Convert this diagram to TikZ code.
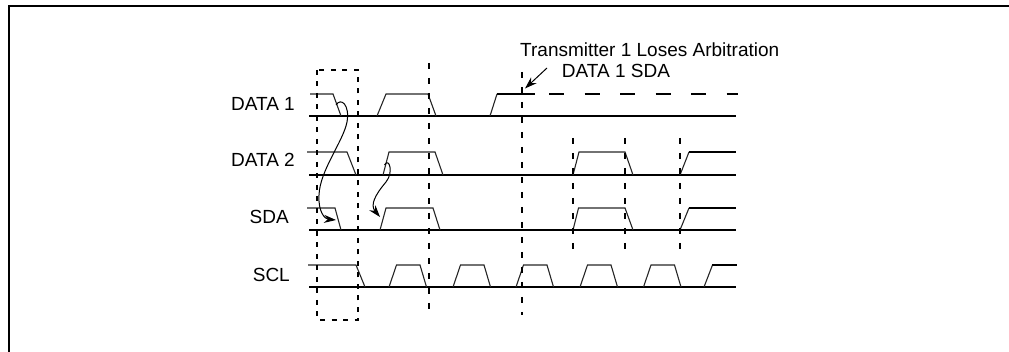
\documentclass[tikz,border=0pt]{standalone}
\usepackage{fontspec}
\setmainfont{Liberation Sans}
\usetikzlibrary{arrows.meta}
\begin{document}
\begin{tikzpicture}[x=1pt,y=-1pt,
  frame/.style={line width=2pt},
  baseln/.style={line width=2pt, line cap=butt},
  wave/.style={line width=1.1pt, black!85, line join=miter},
  vdash/.style={line width=2pt, dash pattern=on 6pt off 9pt},
  boxdash/.style={line width=2pt, dash pattern=on 5pt off 6.5pt},
  hdash/.style={line width=2pt, dash pattern=on 15pt off 20.5pt},
  lbl/.style={font=\fontsize{19}{22}\selectfont, inner sep=0pt},
  arr/.style={line width=1pt, -{Stealth[length=12pt,width=8pt]}}
]
\useasboundingbox (0,0) rectangle (1009,352);
% frame
\draw[frame] (9,352) -- (9,6) -- (1009,6);

% labels
\node[lbl, anchor=base east] (l1) at (295,110.7) {DATA 1};
\node[lbl, anchor=base east] (l2) at (295,166.7) {DATA 2};
\node[lbl, anchor=base east] (l3) at (289,223.3) {SDA};
\node[lbl, anchor=base east] (l4) at (290,281.7) {SCL};
\node[lbl, anchor=base west] (t1) at (520,56.7) {Transmitter 1 Loses Arbitration};
\node[lbl, anchor=base west] (t2) at (561.7,77.3) {DATA 1 SDA};

% baselines
\draw[baseln] (309,116) -- (736,116);
\draw[baseln] (309,175) -- (736,175);
\draw[baseln] (309,230) -- (736,230);
\draw[baseln] (309,287) -- (736,287);

% DATA 1
\draw[wave] (310,94) -- (333,94) -- (341,116);
\draw[wave] (377,116) -- (386,94) -- (428,94) -- (436,116);
\draw[wave] (490,116) -- (497,94);
\draw[baseln] (496.5,94) -- (535,94);
\draw[hdash] (549,94) -- (738,94);

% DATA 2
\draw[wave] (307,152) -- (347,152) -- (356,175);
\draw[wave] (383,175) -- (389,152) -- (435,152) -- (443,175);
\draw[wave] (573,175) -- (579,152) -- (625,152) -- (633,175);
\draw[wave] (680,175) -- (689,152);
\draw[baseln] (688.5,152) -- (736,152);

% SDA
\draw[wave] (307,208) -- (335,208) -- (341,230);
\draw[wave] (380,230) -- (386,208) -- (433,208) -- (440,230);
\draw[wave] (573,230) -- (578.5,208) -- (625,208) -- (633,230);
\draw[wave] (680,230) -- (689,208);
\draw[baseln] (688.5,208) -- (736,208);

% SCL
\draw[wave] (308,265) -- (356,265) -- (365,287);
\foreach \r in {389,453,516,580,643.5}{
  \draw[wave] (\r,287) -- (\r+7.5,265) -- (\r+31,265) -- (\r+37.5,287);
}
\draw[wave] (704,287) -- (712.5,265);
\draw[baseln] (712,265) -- (737,265);

% dashed markers
\draw[boxdash] (317,70) rectangle (358,320);
\draw[vdash] (429,63) -- (429,315);
\draw[vdash] (521.5,72) -- (521.5,315);
\draw[vdash] (573,138) -- (573,257);
\draw[vdash] (625,138) -- (625,257);
\draw[vdash] (680,138) -- (680,257);

% arrows
\coordinate (a0) at (547,68);
\coordinate (a1) at (525,88.5);
\draw[arr] (a0) -- (a1);

\coordinate (b0) at (336,105);
\coordinate (b1) at (336,220);
\draw[arr] (b0) .. controls (341,97) and (350,105) .. (347,122)
  .. controls (343,142) and (320,170) .. (319,195)
  .. controls (318,212) and (325,219) .. (b1);

\coordinate (c0) at (384.5,165);
\coordinate (c1) at (380,217);
\draw[arr] (c0) .. controls (389,157) and (394,172) .. (386,182)
  .. controls (375,195) and (370,205) .. (c1);
\end{tikzpicture}
\end{document}
